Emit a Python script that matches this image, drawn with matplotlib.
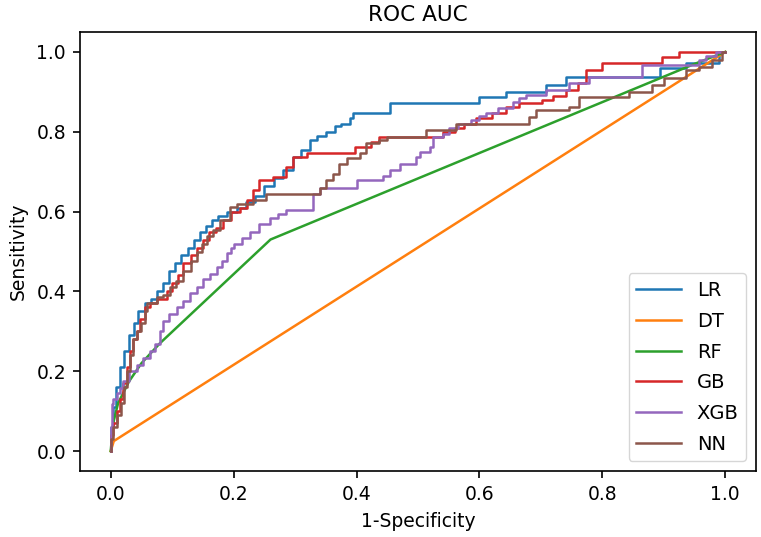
import matplotlib
matplotlib.use("Agg")
import matplotlib.pyplot as plt

labels = ["LR", "DT", "RF", "GB", "XGB", "NN"]

lr_fpr = [0, 0.003, 0.008, 0.015, 0.022, 0.03, 0.038, 0.045, 0.055, 0.065, 0.075, 0.085, 0.095,
          0.105, 0.115, 0.125, 0.135, 0.145, 0.155, 0.165, 0.175, 0.19, 0.205, 0.22, 0.235, 0.25,
          0.265, 0.28, 0.297, 0.31, 0.324, 0.335, 0.35, 0.365, 0.375, 0.39, 0.395, 0.454, 0.60,
          0.644, 0.709, 0.741, 0.893, 0.936, 0.99, 1.0]
lr_tpr = [0, 0.06, 0.11, 0.16, 0.21, 0.25, 0.29, 0.32, 0.35, 0.37, 0.38, 0.40, 0.42,
          0.45, 0.47, 0.49, 0.51, 0.53, 0.55, 0.565, 0.58, 0.59, 0.60, 0.61, 0.625, 0.64,
          0.665, 0.685, 0.705, 0.736, 0.755, 0.78, 0.79, 0.80, 0.815, 0.82, 0.834, 0.847, 0.872,
          0.887, 0.90, 0.917, 0.937, 0.96, 0.972, 1.0]

dt_fpr = [0, 0.005, 1.0]
dt_tpr = [0, 0.025, 1.0]

rf_fpr = [0, 0.004, 0.012, 0.03, 0.05, 0.08, 0.26, 0.95, 1.0]
rf_tpr = [0, 0.07, 0.12, 0.175, 0.22, 0.27, 0.53, 0.97, 1.0]

gb_fpr = [0, 0.004, 0.01, 0.015, 0.02, 0.026, 0.031, 0.036, 0.042, 0.048, 0.055, 0.064, 0.075,
          0.091, 0.1, 0.11, 0.118, 0.13, 0.14, 0.15, 0.16, 0.172, 0.183, 0.195, 0.21, 0.221,
          0.232, 0.242, 0.264, 0.286, 0.297, 0.319, 0.397, 0.424, 0.437, 0.54, 0.56, 0.575,
          0.595, 0.621, 0.643, 0.665, 0.702, 0.72, 0.741, 0.76, 0.773, 0.80, 0.897, 0.925, 1.0]
gb_tpr = [0, 0.04, 0.07, 0.10, 0.13, 0.17, 0.21, 0.25, 0.28, 0.30, 0.33, 0.36, 0.37,
          0.38, 0.40, 0.42, 0.44, 0.47, 0.49, 0.51, 0.53, 0.55, 0.56, 0.58, 0.60, 0.61,
          0.63, 0.653, 0.678, 0.686, 0.711, 0.736, 0.746, 0.762, 0.775, 0.787, 0.80, 0.81,
          0.82, 0.835, 0.847, 0.862, 0.872, 0.879, 0.89, 0.905, 0.922, 0.955, 0.972, 0.988, 1.0]

xgb_fpr = [0, 0.002, 0.004, 0.01, 0.015, 0.02, 0.03, 0.043, 0.053, 0.064, 0.072, 0.08, 0.085,
           0.095, 0.108, 0.118, 0.129, 0.14, 0.15, 0.162, 0.173, 0.181, 0.189, 0.195, 0.2, 0.213,
           0.226, 0.242, 0.259, 0.272, 0.286, 0.329, 0.34, 0.4, 0.443, 0.454, 0.47, 0.497, 0.503,
           0.519, 0.525, 0.54, 0.55, 0.565, 0.587, 0.6, 0.611, 0.63, 0.654, 0.665, 0.676, 0.709,
           0.746, 0.779, 0.865, 0.957, 0.968, 0.985, 1.0]
xgb_tpr = [0, 0.06, 0.118, 0.13, 0.145, 0.158, 0.175, 0.20, 0.215, 0.234, 0.25, 0.269, 0.30,
           0.327, 0.344, 0.36, 0.377, 0.395, 0.41, 0.43, 0.444, 0.46, 0.477, 0.495, 0.51, 0.52,
           0.535, 0.55, 0.57, 0.585, 0.595, 0.603, 0.645, 0.66, 0.678, 0.69, 0.703, 0.72, 0.736,
           0.75, 0.762, 0.787, 0.795, 0.81, 0.82, 0.83, 0.84, 0.847, 0.86, 0.874, 0.885, 0.892,
           0.905, 0.922, 0.937, 0.967, 0.98, 0.99, 1.0]

nn_fpr = [0, 0.004, 0.01, 0.016, 0.022, 0.027, 0.031, 0.036, 0.043, 0.05, 0.055, 0.059, 0.064,
          0.075, 0.085, 0.096, 0.107, 0.118, 0.13, 0.14, 0.148, 0.156, 0.167, 0.178, 0.194, 0.205,
          0.232, 0.253, 0.34, 0.35, 0.361, 0.372, 0.384, 0.405, 0.416, 0.437, 0.45, 0.513, 0.562,
          0.681, 0.692, 0.746, 0.762, 0.844, 0.881, 0.90, 0.936, 0.957, 0.979, 0.995, 1.0]
nn_tpr = [0, 0.03, 0.06, 0.09, 0.12, 0.16, 0.20, 0.24, 0.28, 0.30, 0.32, 0.35, 0.37,
          0.37, 0.385, 0.39, 0.41, 0.427, 0.45, 0.477, 0.50, 0.52, 0.54, 0.553, 0.578, 0.611,
          0.62, 0.628, 0.645, 0.66, 0.68, 0.695, 0.72, 0.735, 0.746, 0.771, 0.78, 0.787, 0.804,
          0.82, 0.837, 0.854, 0.862, 0.887, 0.90, 0.917, 0.934, 0.955, 0.962, 0.98, 1.0]

colors = ["#1f77b4", "#ff7f0e", "#2ca02c", "#d62728", "#9467bd", "#8c564b"]

fig = plt.figure(figsize=(7.61, 5.37), dpi=100)
ax = fig.add_axes([80/761, 1-471/537, (756-80)/761, (471-32)/537])
fs = 13.5
lw = 1.8
ax.plot(lr_fpr, lr_tpr, color=colors[0], lw=lw, drawstyle="steps-pre", label=labels[0])
ax.plot(dt_fpr, dt_tpr, color=colors[1], lw=lw, label=labels[1])
ax.plot(rf_fpr, rf_tpr, color=colors[2], lw=lw, label=labels[2])
ax.plot(gb_fpr, gb_tpr, color=colors[3], lw=lw, drawstyle="steps-pre", label=labels[3])
ax.plot(xgb_fpr, xgb_tpr, color=colors[4], lw=lw, drawstyle="steps-pre", label=labels[4])
ax.plot(nn_fpr, nn_tpr, color=colors[5], lw=lw, drawstyle="steps-pre", label=labels[5])

ax.set_title("ROC AUC", fontsize=15.6, pad=8)
ax.set_xlabel("1-Specificity", fontsize=fs, labelpad=6)
ax.set_ylabel("Sensitivity", fontsize=fs, labelpad=6)
ax.tick_params(labelsize=fs, width=1.2, length=5, pad=5)
for s in ax.spines.values():
    s.set_linewidth(1.2)
ax.legend(loc="lower right", fontsize=14, handlelength=2.3, labelspacing=0.6)
fig.savefig("out.png", dpi=100)
